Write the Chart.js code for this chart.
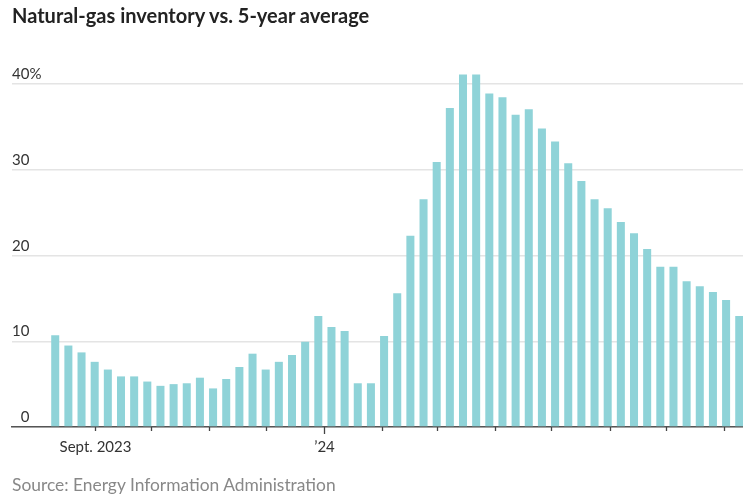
<!DOCTYPE html>
<html><head><meta charset="utf-8">
<script src="https://cdn.jsdelivr.net/npm/chart.js@4"></script>
<style>
html,body{margin:0;padding:0;background:#fff;}
#wrap{position:relative;width:743px;height:496px;overflow:hidden;}
#title{position:absolute;left:12px;top:3px;font:bold 20px/1.2 Lato, sans-serif;color:#222;white-space:nowrap;}
#source{position:absolute;left:12px;top:475px;font:17.4px/1.2 Lato, sans-serif;color:#888;white-space:nowrap;}
canvas{position:absolute;left:0;top:0;}
</style></head><body>
<div id="wrap">
<canvas id="c" width="743" height="496"></canvas>
<div id="title">Natural-gas inventory vs. 5-year average</div>
<div id="source">Source: Energy Information Administration</div>
</div>
<script>
// Week-ending dates of EIA storage reports
const weeks = [
 '2023-08-11','2023-08-18','2023-08-25','2023-09-01','2023-09-08','2023-09-15','2023-09-22','2023-09-29',
 '2023-10-06','2023-10-13','2023-10-20','2023-10-27','2023-11-03','2023-11-10','2023-11-17','2023-11-24',
 '2023-12-01','2023-12-08','2023-12-15','2023-12-22','2023-12-29','2024-01-05','2024-01-12','2024-01-19',
 '2024-01-26','2024-02-02','2024-02-09','2024-02-16','2024-02-23','2024-03-01','2024-03-08','2024-03-15',
 '2024-03-22','2024-03-29','2024-04-05','2024-04-12','2024-04-19','2024-04-26','2024-05-03','2024-05-10',
 '2024-05-17','2024-05-24','2024-05-31','2024-06-07','2024-06-14','2024-06-21','2024-06-28','2024-07-05',
 '2024-07-12','2024-07-19','2024-07-26','2024-08-02','2024-08-09'
];
// Inventory vs. 5-year average, %
const surplus = [
 10.7, 9.5, 8.7, 7.6, 6.7, 5.9, 5.9, 5.3, 4.8, 5.0,
 5.1, 5.75, 4.5, 5.6, 7.0, 8.55, 6.7, 7.6, 8.4, 9.95,
 12.95, 11.65, 11.2, 5.1, 5.1, 10.6, 15.6, 22.3, 26.55, 30.9,
 37.2, 41.1, 41.1, 38.9, 38.45, 36.4, 37.05, 34.8, 33.3, 30.75,
 28.7, 26.55, 25.5, 23.9, 22.6, 20.75, 18.7, 18.7, 17.0, 16.4,
 15.75, 14.8, 12.95
];
const yTicks = [0, 10, 20, 30, 40];
const monthTicks = ['2023-09-01','2023-10-01','2023-11-01','2023-12-01','2024-01-01','2024-02-01',
 '2024-03-01','2024-04-01','2024-05-01','2024-06-01','2024-07-01','2024-08-01'];
const monthLabels = {'2023-09-01':'Sept. 2023','2024-01-01':'\u201924'};
const xRange = ['2023-07-19','2024-08-11'];

const dayNum = s => { const [y,m,d] = s.split('-').map(Number); return Date.UTC(y,m-1,d)/86400000; };

const axisDecor = {
  id:'axisDecor',
  afterDraw(chart){
    const {ctx, scales:{x,y}, chartArea} = chart;
    ctx.save();
    ctx.font = '15px Lato, sans-serif';
    ctx.fillStyle = '#333';
    ctx.textBaseline = 'alphabetic';
    yTicks.forEach((v,i)=>{
      const py = y.getPixelForValue(v);
      ctx.textAlign = 'right';
      ctx.fillText(String(v), 29.5, py - 5);
      if (i === yTicks.length - 1){ ctx.textAlign = 'left'; ctx.fillText('%', 29.5, py - 5); }
    });
    const base = chartArea.bottom;
    ctx.strokeStyle = '#444';
    ctx.lineWidth = 1.3;
    monthTicks.forEach(d=>{
      const px = Math.round(x.getPixelForValue(dayNum(d))) + 0.5;
      const isYear = d.endsWith('-01-01');
      ctx.beginPath();
      ctx.moveTo(px, base);
      ctx.lineTo(px, base + (isYear ? 7 : 4));
      ctx.stroke();
      if (monthLabels[d]){
        ctx.textAlign = 'center';
        ctx.fillText(monthLabels[d], px, 452);
      }
    });
    ctx.restore();
  }
};

new Chart(document.getElementById('c'), {
  type:'bar',
  data:{
    datasets:[{
      data: weeks.map((w,i)=>({x: dayNum(w), y: surplus[i]})),
      backgroundColor:'#8fd3d8',
      borderWidth:0,
      barPercentage:0.61,
      categoryPercentage:1,
      clip:false
    }]
  },
  options:{
    responsive:false,
    animation:false,
    layout:{padding:{top:84,left:12,right:0,bottom:69}},
    plugins:{legend:{display:false},tooltip:{enabled:false},title:{display:false}},
    scales:{
      x:{
        type:'linear',
        offset:false,
        min:dayNum(xRange[0]), max:dayNum(xRange[1]),
        ticks:{display:false},
        grid:{drawOnChartArea:false, drawTicks:false, offset:false},
        border:{display:true, color:'#555', width:1.5},
        afterFit:s=>{ s.height = 0; }
      },
      y:{
        min:0, max:40,
        ticks:{display:false, stepSize:10},
        grid:{color:'#e4e4e4', lineWidth:1.5, drawTicks:false},
        border:{display:false},
        afterFit:s=>{ s.width = 0; }
      }
    }
  },
  plugins:[axisDecor]
});
</script>
</body></html>
